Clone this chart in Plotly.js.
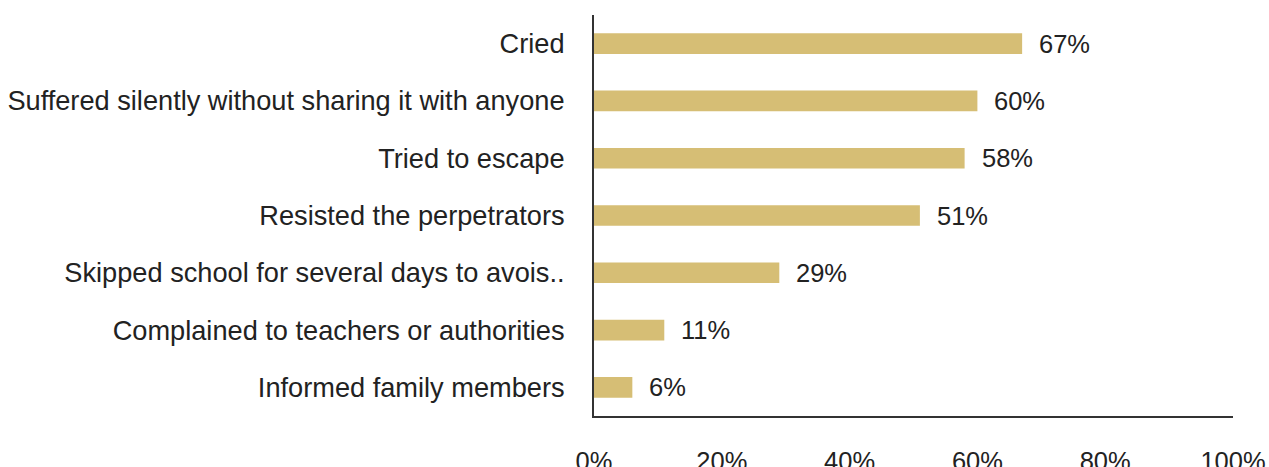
<!DOCTYPE html>
<html>
<head>
<meta charset="utf-8">
<script src="https://cdn.plot.ly/plotly-3.0.1.min.js"></script>
<style>html,body{margin:0;padding:0;background:#fff;}#chart{width:1269px;height:467px;}</style>
</head>
<body>
<div id="chart"></div>
<script>
const categories = [
  "Cried",
  "Suffered silently without sharing it with anyone",
  "Tried to escape",
  "Resisted the perpetrators",
  "Skipped school for several days to avois..",
  "Complained to teachers or authorities",
  "Informed family members"
];
const values = [67, 60, 58, 51, 29, 11, 6];
const valueLabels = ["67%", "60%", "58%", "51%", "29%", "11%", "6%"];
const tickVals = [0, 20, 40, 60, 80, 100];
const tickText = ["0%", "20%", "40%", "60%", "80%", "100%"];

const font = {family: "Liberation Sans, Arial, sans-serif", size: 27.2, color: "#222222"};
const valFont = {family: "Liberation Sans, Arial, sans-serif", size: 25.5, color: "#222222"};

const trace = {
  type: "bar",
  orientation: "h",
  x: values,
  y: categories,
  width: 0.36,
  marker: {color: "#D6BE75"},
  hoverinfo: "none"
};

const annotations = categories.map((c, i) => ({
  x: values[i], y: c, xref: "x", yref: "y",
  text: valueLabels[i], showarrow: false,
  xanchor: "left", yanchor: "middle", xshift: 15,
  font: valFont
}));

const layout = {
  width: 1269, height: 467,
  margin: {l: 594, r: 36, t: 15, b: 51, pad: 0},
  paper_bgcolor: "#fff", plot_bgcolor: "#fff",
  showlegend: false,
  font: font,
  xaxis: {
    range: [0, 100],
    tickvals: tickVals, ticktext: tickText,
    showgrid: false, zeroline: false,
    showline: true, linecolor: "#333333", linewidth: 2,
    ticks: "outside", ticklen: 21, tickcolor: "rgba(0,0,0,0)",
    tickfont: valFont, fixedrange: true
  },
  yaxis: {
    autorange: "reversed",
    range: [6.5, -0.5],
    showgrid: false, zeroline: false,
    showline: true, linecolor: "#333333", linewidth: 2,
    ticks: "outside", ticklen: 22, tickcolor: "rgba(0,0,0,0)",
    tickfont: font, fixedrange: true
  },
  annotations: annotations
};

Plotly.newPlot("chart", [trace], layout, {displayModeBar: false, staticPlot: true});
</script>
</body>
</html>
